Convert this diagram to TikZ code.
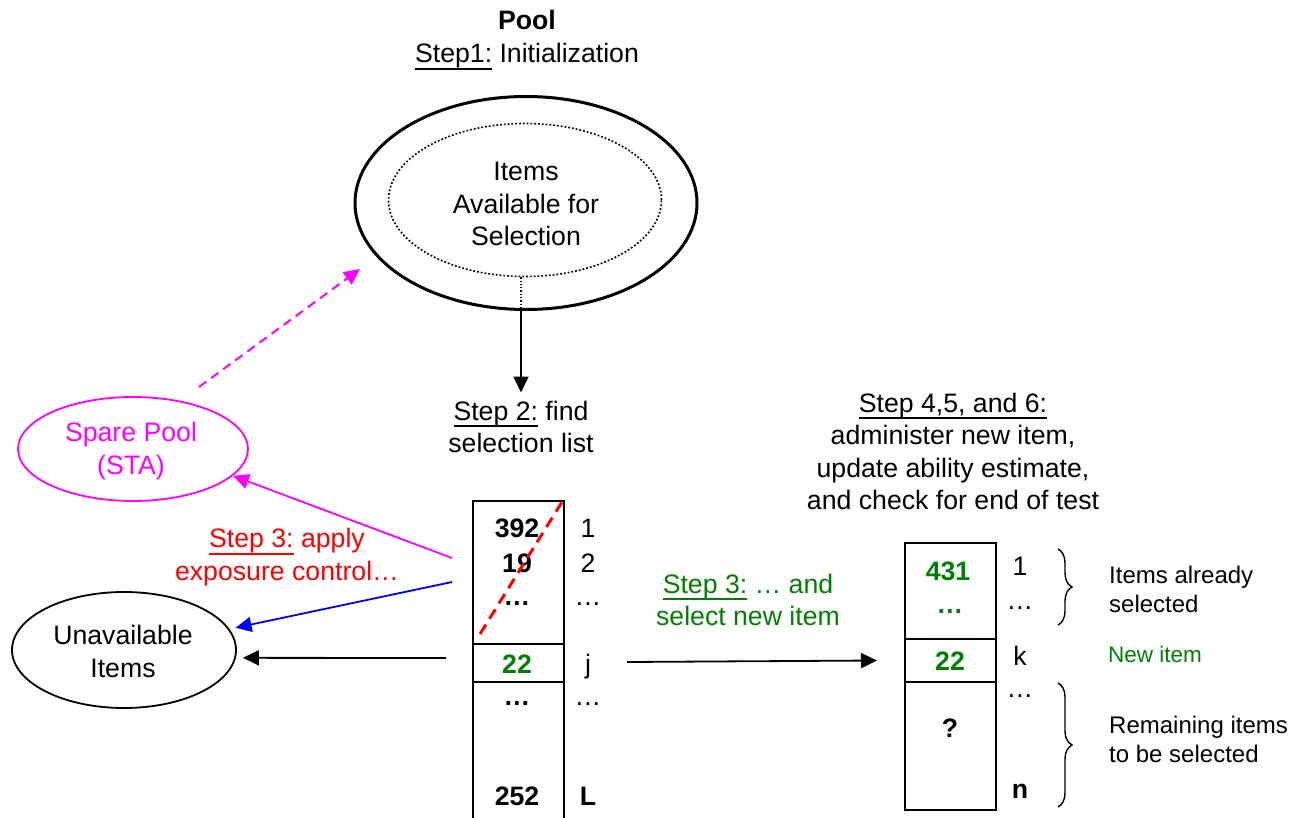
\documentclass[tikz,border=0pt]{standalone}
\usepackage{fontspec}
\setmainfont{Liberation Sans}
\usetikzlibrary{arrows.meta,decorations.pathreplacing,shapes.geometric}
\definecolor{dgreen}{RGB}{0,128,0}
\definecolor{mag}{RGB}{255,0,255}
\newcommand\fM{\fontsize{26.67}{32.5}\selectfont}
\newcommand\fS{\fontsize{24}{29}\selectfont}
\newcommand\ulin[1]{\setbox0\hbox{#1}\rlap{\rule[-7pt]{\wd0}{1.6pt}}\box0\relax}
\begin{document}
\begin{tikzpicture}[x=1pt,y=-1pt,
  txt/.style={inner sep=0pt,font=\fM},
  num/.style={inner sep=0pt,font=\fM\bfseries,anchor=base},
  lab/.style={inner sep=0pt,font=\fM,anchor=base},
  cell/.style={draw,line width=1.8pt,inner sep=0pt,outer sep=0pt,minimum width=91pt},
  arr/.style={-{Triangle[length=16pt,width=15pt]},line width=1.8pt},
  ell/.style={ellipse,draw,inner sep=0pt,line width=1.8pt},
  brc/.style={decorate,decoration={brace,amplitude=14pt},line width=1.4pt}]
\useasboundingbox (0,0) rectangle (1301,818);

% Pool
\node[txt,font=\fM\bfseries,anchor=base] (pooltitle) at (527,30) {Pool};
\node[txt,anchor=base] (step1) at (527,63) {\ulin{Step1:} Initialization};
\node[ell,line width=3pt,minimum width=342pt,minimum height=213pt] (pool) at (526,203) {};
\node[ell,dotted,line width=1.6pt,minimum width=273pt,minimum height=153pt] (avail) at (525,200) {};
\node[txt,align=center,anchor=north] (availtxt) at (526,162) {Items\\Available for\\Selection};

% Step 2 text
\node[txt,align=center,anchor=north] (step2) at (521,400.5) {\ulin{Step 2:} find\\selection list};
\draw[dotted,line width=1.3pt] (step2.north |- avail.south) -- (step2.north |- pool.south);
\draw[arr,shorten >=8pt] (step2.north |- pool.south) -- (step2.north);

% Selection list box
\node[cell,minimum height=143pt,anchor=north west] (lt) at (473,501) {};
\node[cell,minimum height=38pt,anchor=north] (lj) at (lt.south) {};
\draw[line width=1.8pt] (lj.south west) -- ++(0,150);
\draw[line width=1.8pt] (lj.south east) -- ++(0,150);
\node[num] (n392) at (517,537) {392};
\node[num] (n19) at (517,572) {19};
\node[num] (nd1) at (517,605) {…};
\node[num,text=dgreen] (n22) at (517,673) {22};
\node[num] (nd2) at (517,705) {…};
\node[num] (n252) at (517,805) {252};
\node[lab] (l1) at (588,537) {1};
\node[lab] (l2) at (588,572) {2};
\node[lab] (ld1) at (588,605) {…};
\node[lab] (lj1) at (588,673) {j};
\node[lab] (ld2) at (588,705) {…};
\node[num] (lL) at (588,805) {L};
\draw[red,line width=3pt,dash pattern=on 11pt off 7pt] ([shift={(7,-10)}]lt.south west) -- ([shift={(-2,1)}]lt.north east);

% Spare pool & unavailable
\node[ell,draw=mag,minimum width=230pt,minimum height=104pt] (spare) at (133,449) {};
\node[txt,align=center,anchor=north,text=mag] (sparetxt) at (131,422) {Spare Pool\\(STA)};
\node[ell,minimum width=224pt,minimum height=116pt] (unav) at (124,650) {};
\node[txt,align=center,anchor=north] (unavtxt) at (123,625) {Unavailable\\Items};

\coordinate (ms) at (452,558);
\coordinate (bs) at (452,582);
\coordinate (ks) at (446,658);
\coordinate (ds) at (199,387);
\coordinate (de) at (360,269);
\draw[arr,mag] (ms) -- (spare.-15);
\draw[arr,blue] (bs) -- ([xshift=7pt]unav.12);
\draw[arr] (ks) -- ([xshift=7pt]unav.-4);
\draw[arr,mag,line width=2pt,dash pattern=on 9pt off 6pt] (ds) -- (de);

\node[txt,align=center,anchor=north,text=red] (step3a) at (287,528) {\ulin{Step 3:} apply\\exposure control…};
\node[txt,align=center,anchor=north,text=dgreen] (step3b) at (748,573.5) {\ulin{Step 3:} … and\\select new item};

% Right box
\node[cell,minimum height=96pt,anchor=north west] (rt) at (905,543) {};
\node[cell,minimum height=43pt,anchor=north] (rk) at (rt.south) {};
\node[cell,minimum height=128pt,anchor=north] (rb) at (rk.south) {};
\coordinate (js) at (627,662);
\draw[arr] (js) -- ([xshift=-28pt]rk.west);

\node[num,text=dgreen] (r431) at (948,580) {431};
\node[num,text=dgreen] (rd1) at (950,613) {…};
\node[num,text=dgreen] (r22) at (950,670) {22};
\node[num] (rq) at (950,737) {?};
\node[lab] (rl1) at (1020,575) {1};
\node[lab] (rld1) at (1020,609) {…};
\node[lab] (rlk) at (1020,665) {k};
\node[lab] (rld2) at (1020,697) {…};
\node[num] (rn) at (1020,798) {n};

\node[txt,align=center,anchor=north] (step4) at (953,392.5) {\ulin{Step 4,5, and 6:}\\administer new item,\\update ability estimate,\\and check for end of test};

\draw[brc] (1058,549) -- (1058,625);
\draw[brc] (1058,683) -- (1058,807);
\node[txt,font=\fS,align=left,anchor=north west] (already) at (1109,565.5) {Items already\\selected};
\node[txt,font=\fontsize{22.5}{27}\selectfont,text=dgreen,anchor=base west] (newitem) at (1108,662) {New item};
\node[txt,font=\fS,align=left,anchor=north west] (remain) at (1109,715.5) {Remaining items\\to be selected};
\end{tikzpicture}
\end{document}
